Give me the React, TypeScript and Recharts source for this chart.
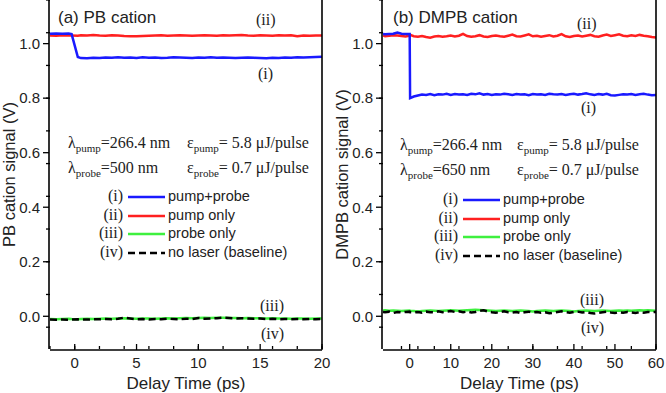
import React from 'react';
import { LineChart, Line, XAxis, YAxis } from 'recharts';

// ---- panel (a) PB cation ----
const timeA = [
  -2, -1.5, -1, -0.5, -0.25, 0.25, 0.5, 1, 1.5, 2, 2.5, 3, 3.5, 4, 4.5, 5, 5.5, 6, 6.5, 7, 7.5, 8, 8.5, 9,
  9.5, 10, 10.5, 11, 11.5, 12, 12.5, 13, 13.5, 14, 14.5, 15, 15.5, 16, 16.5, 17, 17.5, 18, 18.5, 19, 19.5, 20,
];
const pumpProbeA = [
  1.036, 1.037, 1.036, 1.037, 1.035, 0.951, 0.947, 0.946, 0.948, 0.947, 0.949, 0.948, 0.95, 0.948, 0.949,
  0.947, 0.95, 0.948, 0.949, 0.947, 0.948, 0.95, 0.949, 0.948, 0.947, 0.949, 0.948, 0.95, 0.948, 0.949,
  0.948, 0.947, 0.948, 0.949, 0.948, 0.947, 0.946, 0.948, 0.947, 0.949, 0.948, 0.95, 0.949, 0.95, 0.951,
  0.952,
];
const pumpOnlyA = [
  1.03, 1.029, 1.031, 1.03, 1.03, 1.029, 1.031, 1.03, 1.032, 1.03, 1.029, 1.031, 1.03, 1.028, 1.027, 1.027,
  1.028, 1.029, 1.03, 1.031, 1.029, 1.03, 1.031, 1.03, 1.029, 1.03, 1.031, 1.03, 1.029, 1.031, 1.03, 1.031,
  1.032, 1.03, 1.029, 1.031, 1.03, 1.029, 1.031, 1.03, 1.031, 1.027, 1.03, 1.029, 1.03, 1.03,
];
const probeOnlyA = [
  -0.01, -0.011, -0.01, -0.009, -0.01, -0.011, -0.01, -0.009, -0.01, -0.009, -0.008, -0.009, -0.008,
  -0.007, -0.008, -0.009, -0.008, -0.008, -0.009, -0.008, -0.007, -0.008, -0.007, -0.006, -0.007, -0.006,
  -0.005, -0.006, -0.005, -0.005, -0.006, -0.006, -0.007, -0.006, -0.007, -0.007, -0.008, -0.007, -0.008,
  -0.008, -0.009, -0.008, -0.008, -0.009, -0.008, -0.008,
];
const baselineA = [
  -0.012, -0.013, -0.012, -0.013, -0.012, -0.011, -0.012, -0.012, -0.011, -0.011, -0.01, -0.011, -0.009,
  -0.005, -0.008, -0.011, -0.01, -0.012, -0.01, -0.011, -0.009, -0.01, -0.011, -0.009, -0.01, -0.006,
  -0.009, -0.008, -0.007, -0.005, -0.006, -0.008, -0.007, -0.008, -0.009, -0.008, -0.01, -0.009, -0.011,
  -0.01, -0.011, -0.01, -0.011, -0.01, -0.011, -0.01,
];

// ---- panel (b) DMPB cation ----
const timeB = [
  -6.5, -6, -5, -4, -3, -2, -1, 0, 0.1, 1, 2, 3, 4, 5, 6, 7, 8, 9, 10, 11, 12, 13, 14, 15, 16, 17, 18, 19,
  20, 21, 22, 23, 24, 25, 26, 27, 28, 29, 30, 31, 32, 33, 34, 35, 36, 37, 38, 39, 40, 41, 42, 43, 44, 45,
  46, 47, 48, 49, 50, 51, 52, 53, 54, 55, 56, 57, 58, 59, 60,
];
const pumpProbeB = [
  1.035, 1.034, 1.035, 1.036, 1.041, 1.036, 1.035, 1.035, 0.8, 0.806, 0.81, 0.813, 0.812, 0.815, 0.811,
  0.814, 0.813, 0.816, 0.812, 0.815, 0.813, 0.814, 0.812, 0.816, 0.814, 0.818, 0.813, 0.815, 0.812, 0.814,
  0.813, 0.816, 0.814, 0.812, 0.815, 0.813, 0.814, 0.811, 0.815, 0.813, 0.814, 0.812, 0.816, 0.814, 0.813,
  0.815, 0.812, 0.814, 0.816, 0.813, 0.815, 0.818, 0.814, 0.812, 0.815, 0.813, 0.816, 0.811, 0.81, 0.812,
  0.814, 0.813, 0.815, 0.812, 0.814, 0.816, 0.813, 0.811, 0.812,
];
const pumpOnlyB = [
  1.03, 1.027, 1.029, 1.031, 1.03, 1.028, 1.026, 1.029, 1.032, 1.027, 1.025, 1.028, 1.024, 1.022, 1.026,
  1.028, 1.025, 1.027, 1.03, 1.026, 1.029, 1.036, 1.028, 1.025, 1.027, 1.031, 1.026, 1.024, 1.028, 1.03,
  1.027, 1.025, 1.029, 1.033, 1.027, 1.026, 1.03, 1.034, 1.027, 1.029, 1.025, 1.028, 1.031, 1.026, 1.029,
  1.035, 1.027, 1.024, 1.028, 1.03, 1.026, 1.029, 1.032, 1.027, 1.025, 1.03, 1.033, 1.028, 1.031, 1.034,
  1.029, 1.027, 1.031, 1.028, 1.032, 1.029, 1.027, 1.024, 1.022,
];
const probeOnlyB = [
  0.021, 0.022, 0.02, 0.021, 0.02, 0.019, 0.02, 0.021, 0.02, 0.019, 0.018, 0.019, 0.02, 0.021, 0.02, 0.019,
  0.02, 0.021, 0.022, 0.021, 0.02, 0.021, 0.022, 0.023, 0.024, 0.023, 0.022, 0.021, 0.02, 0.019, 0.02,
  0.021, 0.02, 0.019, 0.02, 0.021, 0.02, 0.019, 0.018, 0.019, 0.02, 0.021, 0.02, 0.019, 0.02, 0.021, 0.02,
  0.019, 0.018, 0.019, 0.02, 0.021, 0.02, 0.019, 0.02, 0.021, 0.02, 0.019, 0.02, 0.021, 0.02, 0.021, 0.02,
  0.021, 0.022, 0.021, 0.022, 0.021, 0.02,
];
const baselineB = [
  0.016, 0.015, 0.017, 0.012, 0.016, 0.014, 0.016, 0.017, 0.015, 0.014, 0.016, 0.013, 0.017, 0.015, 0.014,
  0.018, 0.015, 0.017, 0.019, 0.016, 0.018, 0.015, 0.017, 0.014, 0.016, 0.02, 0.022, 0.018, 0.015, 0.013,
  0.016, 0.018, 0.015, 0.014, 0.016, 0.012, 0.015, 0.017, 0.014, 0.016, 0.013, 0.015, 0.011, 0.013, 0.016,
  0.018, 0.015, 0.013, 0.016, 0.017, 0.014, 0.016, 0.012, 0.01, 0.013, 0.015, 0.017, 0.014, 0.012, 0.015,
  0.013, 0.016, 0.014, 0.012, 0.015, 0.013, 0.016, 0.015, 0.016,
];

// ---- axes ----
const yTicks = [0, 0.2, 0.4, 0.6, 0.8, 1.0];
const yMinorTicks = [
  -0.12, -0.08, -0.04, 0, 0.04, 0.08, 0.12, 0.16, 0.2, 0.24, 0.28, 0.32, 0.36, 0.4, 0.44, 0.48, 0.52, 0.56,
  0.6, 0.64, 0.68, 0.72, 0.76, 0.8, 0.84, 0.88, 0.92, 0.96, 1.0, 1.04, 1.08, 1.12, 1.16,
];
const xTicksA = [0, 5, 10, 15, 20];
const xMinorA = [-2, -1, 0, 1, 2, 3, 4, 5, 6, 7, 8, 9, 10, 11, 12, 13, 14, 15, 16, 17, 18, 19, 20];
const xTicksB = [0, 10, 20, 30, 40, 50, 60];
const xMinorB = [
  -6, -4, -2, 0, 2, 4, 6, 8, 10, 12, 14, 16, 18, 20, 22, 24, 26, 28, 30, 32, 34, 36, 38, 40, 42, 44, 46, 48,
  50, 52, 54, 56, 58, 60,
];

const BLUE = '#1a1aff';
const RED = '#ff2020';
const GREEN = '#3ef03e';
const SANS = '"Liberation Sans", Arial, sans-serif';
const SERIF = '"Liberation Serif", "Times New Roman", serif';

const buildRows = (t: number[], a: number[], b: number[], c: number[], d: number[]) =>
  t.map((x, i) => ({ t: x, blue: a[i], red: b[i], green: c[i], black: d[i] }));

const dataA = buildRows(timeA, pumpProbeA, pumpOnlyA, probeOnlyA, baselineA);
const dataB = buildRows(timeB, pumpProbeB, pumpOnlyB, probeOnlyB, baselineB);

const tickStyle = { fill: '#222', fontSize: 15, fontFamily: SANS };
const noLabel = () => <g />;

function Panel(props: {
  data: any[];
  width: number;
  xDomain: [number, number];
  xTicks: number[];
  xMinor: number[];
  yLabel: string;
}) {
  const { data, width, xDomain, xTicks, xMinor, yLabel } = props;
  return (
    <LineChart width={width} height={393} data={data} margin={{ top: 0, right: 9, left: 0, bottom: 0 }}>
      {/* minor ticks sit on the default axes so they stack next to the plot */}
      <XAxis
        dataKey="t"
        type="number"
        domain={xDomain}
        ticks={xMinor}
        allowDataOverflow
        height={1}
        tick={noLabel}
        axisLine={false}
        tickSize={-3}
        tickLine={{ stroke: '#000', strokeWidth: 1.3 }}
      />
      <XAxis
        xAxisId="major"
        dataKey="t"
        type="number"
        domain={xDomain}
        ticks={xTicks}
        allowDataOverflow
        height={43}
        tickSize={-6}
        tickMargin={13}
        tick={tickStyle}
        axisLine={{ stroke: '#000', strokeWidth: 1.6 }}
        tickLine={{ stroke: '#000', strokeWidth: 1.3 }}
        label={{ value: 'Delay Time (ps)', position: 'insideBottom', offset: 4, style: { fill: '#222', fontSize: 17, fontFamily: SANS } }}
      />
      <YAxis
        type="number"
        domain={[-0.12, 1.16]}
        ticks={yMinorTicks}
        allowDataOverflow
        width={1}
        tick={noLabel}
        axisLine={false}
        tickSize={4}
        tickLine={{ stroke: '#000', strokeWidth: 1.3 }}
      />
      <YAxis
        yAxisId="major"
        type="number"
        domain={[-0.12, 1.16]}
        ticks={yTicks}
        allowDataOverflow
        width={49}
        tickSize={6}
        tickMargin={3}
        tickFormatter={(v: number) => v.toFixed(1)}
        tick={tickStyle}
        axisLine={{ stroke: '#000', strokeWidth: 1.6 }}
        tickLine={{ stroke: '#000', strokeWidth: 1.3 }}
        label={{
          value: yLabel,
          angle: -90,
          position: 'insideLeft',
          offset: 9,
          style: { textAnchor: 'middle', fill: '#222', fontSize: 16.5, fontFamily: SANS },
        }}
      />
      <YAxis
        yAxisId="right"
        orientation="right"
        type="number"
        domain={[-0.12, 1.16]}
        width={1}
        tick={false}
        tickLine={false}
        axisLine={{ stroke: '#000', strokeWidth: 1.6 }}
      />
      <Line dataKey="red" stroke={RED} strokeWidth={2.5} dot={false} isAnimationActive={false} />
      <Line dataKey="blue" stroke={BLUE} strokeWidth={2.5} dot={false} isAnimationActive={false} />
      <Line dataKey="green" stroke={GREEN} strokeWidth={2.5} dot={false} isAnimationActive={false} />
      <Line dataKey="black" stroke="#000" strokeWidth={2.5} strokeDasharray="7 4" dot={false} isAnimationActive={false} />
    </LineChart>
  );
}

function Txt(props: { x: number; y: number; right?: boolean; serif?: boolean; size?: number; children: any }) {
  const { x, y, right, serif, size, children } = props;
  return (
    <div
      style={{
        position: 'absolute',
        top: y,
        left: right ? undefined : x,
        right: right ? 666 - x : undefined,
        transform: 'translateY(-50%)',
        fontFamily: serif ? SERIF : SANS,
        fontSize: size ?? (serif ? 16 : 14),
        color: '#222',
        whiteSpace: 'nowrap',
        lineHeight: 1,
      }}
    >
      {children}
    </div>
  );
}

const Sub = ({ children }: { children: any }) => (
  <span style={{ fontSize: 11, position: 'relative', top: 4 }}>{children}</span>
);

function Swatch(props: { x: number; y: number; color: string; dashed?: boolean }) {
  const { x, y, color, dashed } = props;
  return (
    <svg style={{ position: 'absolute', left: x, top: y - 3 }} width={38} height={6}>
      <line x1={0} y1={3} x2={37} y2={3} stroke={color} strokeWidth={2.5} strokeDasharray={dashed ? '7 4' : undefined} />
    </svg>
  );
}

const legendRows = [
  { tag: '(i)', color: BLUE, text: 'pump+probe', dashed: false },
  { tag: '(ii)', color: RED, text: 'pump only', dashed: false },
  { tag: '(iii)', color: GREEN, text: 'probe only', dashed: false },
  { tag: '(iv)', color: '#000', text: 'no laser (baseline)', dashed: true },
];

function Notes(props: { x0: number; ex: number; y0: number; probeNm: string; lx: number; ly: number }) {
  const { x0, ex, y0, probeNm, lx, ly } = props;
  return (
    <>
      <Txt x={x0} y={y0} serif>
        λ<Sub>pump</Sub>=266.4 nm
      </Txt>
      <Txt x={ex} y={y0} serif>
        ε<Sub>pump</Sub>= 5.8 μJ/pulse
      </Txt>
      <Txt x={x0} y={y0 + 24.5} serif>
        λ<Sub>probe</Sub>={probeNm} nm
      </Txt>
      <Txt x={ex} y={y0 + 24.5} serif>
        ε<Sub>probe</Sub>= 0.7 μJ/pulse
      </Txt>
      {legendRows.map((r, i) => (
        <React.Fragment key={r.tag}>
          <Txt x={lx} y={ly + i * 18.7} right serif>
            {r.tag}
          </Txt>
          <Swatch x={lx + 5} y={ly + i * 18.7 + 1} color={r.color} dashed={r.dashed} />
          <Txt x={lx + 45} y={ly + i * 18.7} size={14.5}>
            {r.text}
          </Txt>
        </React.Fragment>
      ))}
    </>
  );
}

export default function App() {
  return (
    <div style={{ position: 'absolute', left: 0, top: 0, width: 666, height: 393, background: '#fff', overflow: 'hidden' }}>
      <div style={{ position: 'absolute', left: 0, top: 0 }}>
        <Panel data={dataA} width={332} xDomain={[-2, 20]} xTicks={xTicksA} xMinor={xMinorA} yLabel="PB cation signal (V)" />
      </div>
      <div style={{ position: 'absolute', left: 333, top: 0 }}>
        <Panel data={dataB} width={333} xDomain={[-6.5, 60]} xTicks={xTicksB} xMinor={xMinorB} yLabel="DMPB cation signal (V)" />
      </div>

      <Txt x={58} y={17} size={17}>(a) PB cation</Txt>
      <Txt x={256} y={20} serif>(ii)</Txt>
      <Txt x={258} y={74} serif>(i)</Txt>
      <Txt x={260} y={306} serif>(iii)</Txt>
      <Txt x={261} y={334} serif>(iv)</Txt>
      <Notes x0={68} ex={187} y0={143} probeNm="500" lx={123} ly={196} />

      <Txt x={393} y={17} size={17}>(b) DMPB cation</Txt>
      <Txt x={577} y={24} serif>(ii)</Txt>
      <Txt x={581} y={108} serif>(i)</Txt>
      <Txt x={580} y={300} serif>(iii)</Txt>
      <Txt x={581} y={328} serif>(iv)</Txt>
      <Notes x0={400} ex={517} y0={145} probeNm="650" lx={458} ly={199} />
    </div>
  );
}
